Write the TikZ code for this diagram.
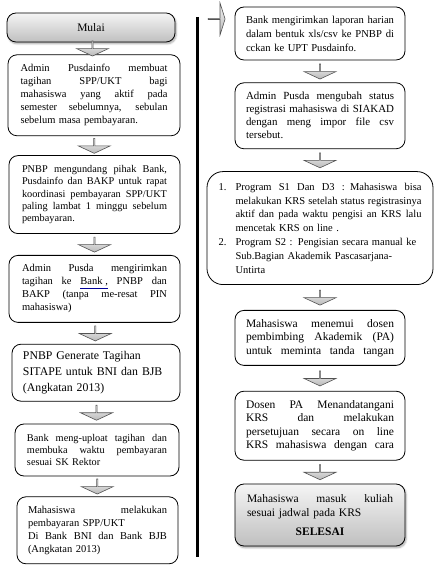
\documentclass[tikz,border=0pt]{standalone}
\usepackage{fontspec}
\setmainfont{Liberation Serif}
\usepackage{xcolor}
\usetikzlibrary{shapes.arrows, positioning, calc, shadows.blur}

\newcommand{\jl}[1]{\makebox[\linewidth][s]{\spaceskip=0.25em plus 1em minus 0.05em\relax #1}}
\newcommand{\jw}[2]{\makebox[#1][s]{\spaceskip=0.25em plus 1em minus 0.05em\relax #2}}

\tikzset{
    procbox/.style={
        rectangle,
        rounded corners=9pt,
        draw=black,
        line width=0.8pt,
        fill=white,
        align=left,
        inner xsep=0pt,
        inner ysep=2pt,
        font=\fontsize{10.5}{13}\selectfont
    },
    termbox/.style={
        procbox,
        top color=gray!8,
        bottom color=gray!50,
        blur shadow={shadow xshift=1.2pt, shadow yshift=-1.8pt, shadow blur steps=5, shadow opacity=35}
    },
    downarrow/.style={
        single arrow,
        shape border rotate=270,
        single arrow head extend=8pt,
        single arrow tip angle=130,
        minimum height=15pt,
        minimum width=32pt,
        inner sep=0pt,
        draw=gray!65!black,
        line width=0.6pt,
        top color=gray!10,
        bottom color=gray!55
    },
    sidearrow/.style={
        downarrow,
        shape border rotate=0,
        minimum height=17pt,
        single arrow head extend=8.5pt,
        single arrow tip angle=145
    },
    divider/.style={
        draw=black,
        line width=3pt
    }
}

\begin{document}
\begin{tikzpicture}[x=1pt, y=1pt]
\useasboundingbox (0,0) rectangle (440,567);

% Left column
\node[termbox, minimum width=168pt, minimum height=29pt, align=center, font=\fontsize{11.5}{14}\selectfont] (mulai) at (91,539.5) {Mulai};

\node[procbox, below=12pt of mulai, xshift=3pt, minimum width=172pt, minimum height=81pt, text width=147pt] (tagihan) {
\jl{Admin Pusdainfo membuat}\\
\jl{tagihan SPP/UKT bagi}\\
\jl{mahasiswa yang aktif pada}\\
\jl{semester sebelumnya, sebulan}\\
sebelum masa pembayaran.};

\node[procbox, below=19pt of tagihan, xshift=0.5pt, minimum width=171pt, minimum height=78pt, text width=145pt, font=\fontsize{10.3}{12.2}\selectfont] (rapat) {
\jl{PNBP mengundang pihak Bank,}\\
\jl{Pusdainfo dan BAKP untuk rapat}\\
\jl{koordinasi pembayaran SPP/UKT}\\
\jl{paling lambat 1 minggu sebelum}\\
pembayaran.};

\node[procbox, below=21pt of rapat, minimum width=171pt, minimum height=67pt, text width=145pt] (kirim) {
\jl{Admin Pusda mengirimkan}\\
\jl{tagihan ke {\color{blue!60!black}\underline{\textcolor{black}{Bank ,}}} PNBP dan}\\
\jl{BAKP (tanpa me-resat PIN}\\
mahasiswa)};

\node[procbox, below=21pt of kirim, xshift=1.5pt, minimum width=168pt, minimum height=57pt, text width=146pt, font=\fontsize{11.8}{16}\selectfont] (generate) {
PNBP Generate Tagihan\\
SITAPE untuk BNI dan BJB\\
(Angkatan 2013)};

\node[procbox, below=22pt of generate, xshift=1pt, minimum width=164pt, minimum height=52pt, text width=140pt, font=\fontsize{10.3}{12}\selectfont] (upload) {
\jl{Bank meng-uploat tagihan dan}\\
\jl{membuka waktu pembayaran}\\
sesuai SK Rektor};

\node[procbox, below=20pt of upload, xshift=0.5pt, minimum width=161pt, minimum height=67pt, text width=139pt, font=\fontsize{10.5}{12.8}\selectfont] (bayar) {
\jl{Mahasiswa melakukan}\\
pembayaran SPP/UKT\\
\jl{Di Bank BNI dan Bank BJB}\\
(Angkatan 2013)};

\node[downarrow] (a1) at ($(mulai.south)!0.5!(tagihan.north)$) {};
\node[downarrow] (a2) at ($(tagihan.south)!0.5!(rapat.north)$) {};
\node[downarrow] (a3) at ($(rapat.south)!0.5!(kirim.north)$) {};
\node[downarrow] (a4) at ($(kirim.south)!0.5!(generate.north)$) {};
\node[downarrow] (a5) at ($(generate.south)!0.5!(upload.north)$) {};
\node[downarrow] (a6) at ($(upload.south)!0.5!(bayar.north)$) {};

% Divider and continuation
\coordinate (divtop) at (197,550);
\coordinate (divbot) at (197,10);
\draw[divider] (divtop) -- (divbot);
\node[sidearrow] (lanjut) at (216.5,548) {};

% Right column
\node[procbox, minimum width=170pt, minimum height=53pt, text width=148pt, font=\fontsize{10.6}{14}\selectfont] (laporan) at (320,533.5) {
\jl{Bank mengirimkan laporan harian}\\
\jl{dalam bentuk xls/csv ke PNBP di}\\
cckan ke UPT Pusdainfo.};

\node[procbox, below=22pt of laporan, minimum width=170pt, minimum height=66pt, text width=148pt, font=\fontsize{10.9}{13}\selectfont] (status) {
\jl{Admin Pusda mengubah status}\\
\jl{registrasi mahasiswa di SIAKAD}\\
\jl{dengan meng impor file csv}\\
tersebut.};

\node[procbox, below=22pt of status, minimum width=226pt, minimum height=113pt, text width=203pt, rounded corners=16pt, font=\fontsize{10.5}{13.8}\selectfont] (krs) {
\makebox[17pt][l]{1.}\jw{186pt}{Program S1 Dan D3 : Mahasiswa bisa}\\
\hspace*{17pt}\jw{186pt}{melakukan KRS setelah status registrasinya}\\
\hspace*{17pt}\jw{186pt}{aktif dan pada waktu pengisi an KRS lalu}\\
\hspace*{17pt}mencetak KRS on line .\\
\makebox[17pt][l]{2.}Program S2 : Pengisian secara manual ke\\
\hspace*{17pt}Sub.Bagian Akademik Pascasarjana-\\
\hspace*{17pt}Untirta};

\node[procbox, below=25pt of krs, minimum width=170pt, minimum height=55pt, text width=148pt, font=\fontsize{11.5}{13.5}\selectfont] (dosen) {
\jl{Mahasiswa menemui dosen}\\
\jl{pembimbing Akademik (PA)}\\
\jl{untuk meminta tanda tangan}};

\node[procbox, below=25pt of dosen, minimum width=170pt, minimum height=69pt, text width=148pt, font=\fontsize{11.5}{13.4}\selectfont] (setuju) {
\jl{Dosen PA Menandatangani}\\
\jl{KRS dan melakukan}\\
\jl{persetujuan secara on line}\\
\jl{KRS mahasiswa dengan cara}};

\node[termbox, below=23pt of setuju, minimum width=170pt, minimum height=62pt, text width=146pt, font=\fontsize{11.5}{14.5}\selectfont] (selesai) {
\jl{Mahasiswa masuk kuliah}\\
sesuai jadwal pada KRS\\[4pt]
\makebox[\linewidth]{\textbf{SELESAI}}};

\node[downarrow] (b1) at ($(laporan.south)!0.5!(status.north)$) {};
\node[downarrow] (b2) at ($(status.south)!0.5!(krs.north)$) {};
\node[downarrow] (b3) at ($(krs.south)!0.5!(dosen.north)$) {};
\node[downarrow] (b4) at ($(dosen.south)!0.5!(setuju.north)$) {};
\node[downarrow] (b5) at ($(setuju.south)!0.5!(selesai.north)$) {};

\end{tikzpicture}
\end{document}
